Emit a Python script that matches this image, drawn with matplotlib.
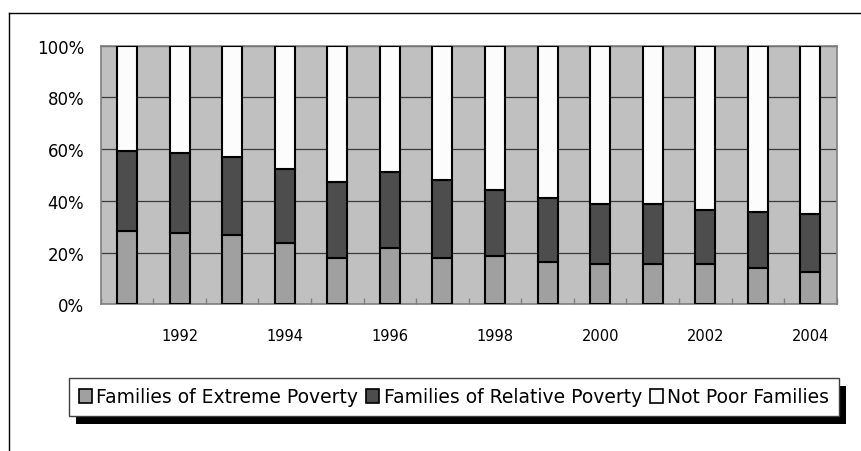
import matplotlib
matplotlib.use("Agg")
import matplotlib.pyplot as plt
from matplotlib.patches import Rectangle
from matplotlib.lines import Line2D
import numpy as np

# Share of families by poverty status (percent of all families)
years = [1991, 1992, 1993, 1994, 1995, 1996, 1997, 1998, 1999, 2000, 2001, 2002, 2003, 2004]
extreme = [28.5, 27.7, 26.8, 23.6, 18.0, 21.9, 18.0, 18.8, 16.5, 15.7, 15.7, 15.7, 14.2, 12.5]
relative = [30.8, 30.8, 30.2, 28.6, 29.4, 29.4, 30.2, 25.5, 24.6, 23.1, 23.1, 20.8, 21.4, 22.3]
not_poor = [40.7, 41.5, 43.0, 47.8, 52.6, 48.7, 51.8, 55.7, 58.9, 61.2, 61.2, 63.5, 64.4, 65.2]

series_names = ["Families of Extreme Poverty", "Families of Relative Poverty", "Not Poor Families"]
series_colors = ["#a0a0a0", "#4d4d4d", "#fcfcfc"]
y_ticks = [0, 20, 40, 60, 80, 100]
y_tick_labels = ["0%", "20%", "40%", "60%", "80%", "100%"]

plt.rcParams["font.family"] = ["DejaVu Sans"]

fig = plt.figure(figsize=(8.62, 4.52), dpi=100)
ax = fig.add_axes([0.1168, 0.3246, 0.8539, 0.5721])
ax.set_facecolor("#c0c0c0")

x = np.arange(len(years))
width = 0.38
bottom = np.zeros(len(years))
for vals, name, col in zip([extreme, relative, not_poor], series_names, series_colors):
    vals = np.array(vals)
    ax.bar(x, vals, width, bottom=bottom, color=col, edgecolor="black",
           linewidth=1.5, label=name, zorder=3)
    bottom += vals

ax.set_xlim(-0.5, len(years) - 0.5)
ax.set_ylim(0, 100)

ax.set_yticks(y_ticks)
ax.set_yticklabels(y_tick_labels, fontsize=12)
ax.tick_params(axis="y", length=0, pad=12)

ax.set_xticks(x)
ax.set_xticklabels([str(y) if y % 2 == 0 else "" for y in years], fontsize=10.5)
ax.tick_params(axis="x", which="major", length=0, pad=17)
ax.set_xticks(np.arange(-0.5, len(years)), minor=True)
ax.tick_params(axis="x", which="minor", direction="in", length=4, color="#808080", width=1)

ax.yaxis.grid(True, color="#3a3a3a", linewidth=0.9, zorder=1)
ax.set_axisbelow(True)
for side in ["left", "right", "top", "bottom"]:
    ax.spines[side].set_color("#808080")
    ax.spines[side].set_linewidth(1.2)

# Outer chart frame
fig.add_artist(Line2D([9 / 862, 1.0], [1 - 14 / 452, 1 - 14 / 452], color="black", lw=1.0,
                      transform=fig.transFigure))
fig.add_artist(Line2D([9 / 862, 9 / 862], [0.0, 1 - 14 / 452], color="black", lw=1.0,
                      transform=fig.transFigure))

handles = [Rectangle((0, 0), 1, 1, facecolor=c, edgecolor="black", linewidth=1.2) for c in series_colors]
leg = fig.legend(handles, series_names, loc="center", bbox_to_anchor=(454 / 862, 1 - 398 / 452),
                 ncol=3, fontsize=13.5, frameon=True, fancybox=False, handlelength=0.7,
                 handleheight=0.7, handletextpad=0.25, columnspacing=0.4, borderpad=0.5,
                 borderaxespad=0)
frame = leg.get_frame()
frame.set_edgecolor("#404040")
frame.set_facecolor("white")
frame.set_alpha(1.0)
frame.set_linewidth(1.0)
leg.set_zorder(6)

# Drop shadow behind the legend box
fig.canvas.draw()
bb = leg.get_window_extent()
shadow = Rectangle((bb.x0 + 7, bb.y0 - 8), bb.width, bb.height, facecolor="black",
                   edgecolor="none", transform=None, zorder=5)
fig.add_artist(shadow)

fig.savefig("out.png", dpi=100)
